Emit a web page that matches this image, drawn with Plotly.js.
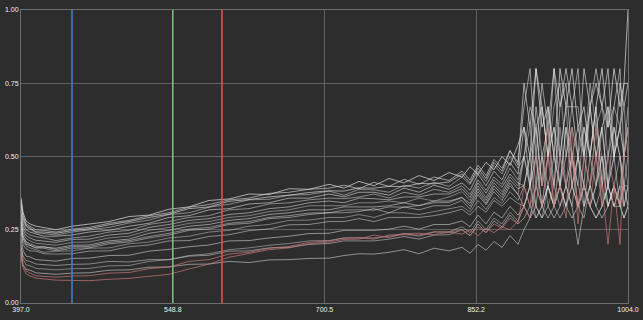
<!DOCTYPE html>
<html>
<head>
<meta charset="utf-8">
<script src="https://cdn.plot.ly/plotly-3.0.1.min.js"></script>
<style>html,body{margin:0;padding:0;background:#2d2d2d;}#chart{width:643px;height:320px;}</style>
</head>
<body>
<div id="chart"></div>
<script>
// wavelength samples (shared by all spectra)
const wavelengths = [397,399,402,406,412,420,432,448, 465,485,505,525,545,565,585,605,625,645,665,685, 705,720,735,750,765,780,795,810,825, 838,846,854,862,870,878,886,894, 900,906,912,918,924,930,936,942,948,954,960,966,972,978,984,990,996,1000,1004];

// spectra (white)
const s1  = [0.36,0.31,0.28,0.27,0.262,0.258,0.25,0.262, 0.27,0.278,0.295,0.30,0.32,0.328,0.35,0.355,0.372,0.37,0.39,0.388, 0.405,0.392,0.415,0.40,0.425,0.41,0.435,0.418,0.445, 0.43,0.465,0.44,0.48,0.455,0.50,0.47,0.54, 0.60,0.50,0.80,0.60,0.67,0.50,0.80,0.67,0.80,0.60,0.67,0.50,0.67,0.80,0.60,0.80,0.67,0.75,1.00];
const s2  = [0.34,0.30,0.27,0.262,0.25,0.248,0.242,0.252, 0.258,0.272,0.282,0.298,0.308,0.327,0.336,0.352,0.358,0.374,0.378,0.388, 0.392,0.402,0.39,0.412,0.398,0.422,0.405,0.43,0.418, 0.45,0.42,0.47,0.435,0.49,0.46,0.52,0.48, 0.67,0.80,0.50,0.75,0.60,0.80,0.50,0.67,0.67,0.80,0.50,0.67,0.80,0.67,0.60,0.67,0.80,0.50,0.67];
const s3  = [0.33,0.28,0.26,0.252,0.24,0.237,0.232,0.242, 0.25,0.258,0.273,0.283,0.302,0.308,0.327,0.337,0.352,0.354,0.368,0.37, 0.382,0.368,0.388,0.386,0.378,0.402,0.392,0.412,0.398, 0.43,0.405,0.45,0.415,0.47,0.44,0.50,0.46, 0.50,0.67,0.60,0.67,0.50,0.67,0.75,0.50,0.67,0.67,0.50,0.75,0.60,0.67,0.50,0.67,0.60,0.50,0.60];
const s4  = [0.31,0.27,0.25,0.242,0.236,0.228,0.228,0.232, 0.242,0.248,0.262,0.272,0.292,0.298,0.318,0.322,0.338,0.342,0.358,0.358, 0.372,0.362,0.378,0.378,0.368,0.392,0.378,0.402,0.388, 0.41,0.385,0.44,0.40,0.45,0.42,0.48,0.44, 0.60,0.40,0.67,0.50,0.60,0.40,0.67,0.75,0.50,0.60,0.50,0.67,0.50,0.60,0.67,0.50,0.60,0.75,0.75];
const s5  = [0.30,0.26,0.24,0.232,0.226,0.222,0.213,0.222, 0.228,0.242,0.248,0.268,0.278,0.292,0.298,0.318,0.322,0.338,0.342,0.352, 0.358,0.356,0.362,0.372,0.358,0.378,0.368,0.388,0.378, 0.40,0.37,0.42,0.385,0.43,0.405,0.46,0.42, 0.50,0.60,0.40,0.67,0.50,0.60,0.50,0.67,0.40,0.50,0.60,0.50,0.67,0.40,0.67,0.50,0.60,0.67,0.50];
const s6  = [0.29,0.25,0.23,0.222,0.214,0.212,0.207,0.217, 0.218,0.232,0.238,0.258,0.268,0.282,0.288,0.302,0.308,0.322,0.328,0.342, 0.348,0.342,0.358,0.356,0.352,0.362,0.362,0.372,0.372, 0.39,0.36,0.41,0.375,0.42,0.395,0.44,0.41, 0.40,0.50,0.60,0.40,0.50,0.60,0.40,0.50,0.60,0.50,0.40,0.67,0.50,0.60,0.40,0.60,0.50,0.40,0.50];
const s7  = [0.28,0.24,0.22,0.212,0.204,0.202,0.197,0.207, 0.208,0.222,0.228,0.248,0.258,0.272,0.278,0.292,0.298,0.312,0.318,0.332, 0.332,0.332,0.342,0.342,0.348,0.342,0.358,0.348,0.362, 0.38,0.35,0.40,0.36,0.41,0.38,0.43,0.40, 0.50,0.40,0.50,0.33,0.50,0.40,0.60,0.40,0.50,0.33,0.50,0.40,0.60,0.50,0.40,0.50,0.60,0.50,0.50];
const s8  = [0.27,0.23,0.21,0.202,0.194,0.192,0.187,0.197, 0.198,0.212,0.218,0.238,0.248,0.262,0.268,0.282,0.288,0.302,0.308,0.318, 0.318,0.328,0.328,0.328,0.332,0.342,0.332,0.348,0.348, 0.36,0.34,0.39,0.35,0.40,0.37,0.42,0.39, 0.40,0.50,0.33,0.50,0.40,0.50,0.40,0.60,0.40,0.50,0.33,0.50,0.40,0.60,0.40,0.50,0.33,0.50,0.60];
const s9  = [0.26,0.22,0.20,0.197,0.188,0.187,0.178,0.187, 0.188,0.202,0.208,0.222,0.232,0.248,0.252,0.268,0.272,0.288,0.292,0.302, 0.308,0.308,0.312,0.322,0.308,0.328,0.318,0.332,0.332, 0.35,0.32,0.37,0.335,0.38,0.35,0.40,0.37, 0.33,0.40,0.50,0.33,0.40,0.33,0.50,0.40,0.33,0.50,0.40,0.33,0.40,0.50,0.33,0.40,0.50,0.33,0.40];
const s10 = [0.25,0.21,0.195,0.188,0.182,0.173,0.177,0.178, 0.187,0.188,0.202,0.208,0.222,0.228,0.242,0.248,0.262,0.268,0.282,0.283, 0.292,0.292,0.302,0.292,0.308,0.308,0.302,0.312,0.322, 0.33,0.31,0.35,0.32,0.36,0.34,0.38,0.35, 0.40,0.33,0.40,0.50,0.33,0.40,0.33,0.40,0.50,0.40,0.33,0.40,0.50,0.33,0.40,0.33,0.40,0.50,0.40];
const s11 = [0.24,0.20,0.185,0.178,0.177,0.168,0.167,0.168, 0.177,0.178,0.192,0.198,0.212,0.213,0.227,0.233,0.247,0.253,0.267,0.268, 0.278,0.278,0.288,0.278,0.292,0.292,0.292,0.298,0.308, 0.32,0.30,0.33,0.31,0.35,0.33,0.36,0.34, 0.33,0.40,0.33,0.29,0.40,0.33,0.40,0.33,0.40,0.33,0.29,0.40,0.33,0.40,0.33,0.40,0.33,0.40,0.33];
const s12 = [0.22,0.18,0.16,0.157,0.148,0.147,0.143,0.152, 0.153,0.162,0.163,0.177,0.183,0.192,0.198,0.212,0.213,0.222,0.228,0.237, 0.238,0.248,0.248,0.248,0.252,0.262,0.252,0.268,0.268, 0.28,0.26,0.30,0.27,0.31,0.29,0.33,0.30, 0.33,0.29,0.40,0.33,0.29,0.33,0.40,0.33,0.29,0.33,0.40,0.33,0.29,0.33,0.40,0.33,0.33,0.29,0.33];
const s13 = [0.20,0.16,0.145,0.142,0.133,0.132,0.128,0.132, 0.133,0.142,0.14,0.148,0.148,0.16,0.163,0.177,0.178,0.188,0.19,0.20, 0.203,0.212,0.213,0.212,0.218,0.227,0.218,0.232,0.233, 0.25,0.23,0.27,0.24,0.28,0.26,0.30,0.27, 0.29,0.33,0.29,0.33,0.40,0.33,0.29,0.33,0.40,0.33,0.40,0.33,0.29,0.33,0.40,0.33,0.40,0.33,0.40];
const s14 = [0.17,0.13,0.115,0.112,0.103,0.102,0.098,0.102, 0.103,0.112,0.113,0.122,0.123,0.132,0.133,0.142,0.138,0.147,0.148,0.152, 0.153,0.162,0.168,0.167,0.173,0.182,0.168,0.187,0.178, 0.19,0.17,0.20,0.18,0.21,0.19,0.23,0.20, 0.25,0.29,0.33,0.29,0.33,0.29,0.33,0.40,0.33,0.20,0.33,0.40,0.33,0.29,0.33,0.40,0.33,0.29,0.33];
const s15 = [0.19,0.15,0.13,0.127,0.118,0.117,0.113,0.117, 0.118,0.127,0.128,0.142,0.148,0.162,0.168,0.182,0.188,0.197,0.203,0.212, 0.213,0.222,0.223,0.222,0.228,0.237,0.228,0.242,0.243, 0.26,0.24,0.28,0.25,0.29,0.27,0.31,0.28, 0.33,0.40,0.29,0.33,0.40,0.33,0.40,0.33,0.50,0.33,0.40,0.33,0.40,0.50,0.33,0.40,0.33,0.40,0.33];
const s16 = [0.35,0.29,0.265,0.257,0.243,0.242,0.238,0.247, 0.253,0.267,0.278,0.292,0.303,0.322,0.328,0.347,0.353,0.362,0.368,0.377, 0.383,0.382,0.393,0.392,0.398,0.397,0.408,0.407,0.413, 0.44,0.41,0.46,0.425,0.48,0.45,0.52,0.47, 0.75,0.60,0.80,0.67,0.50,0.80,0.67,0.80,0.67,0.50,0.80,0.67,0.75,0.67,0.80,0.50,0.75,0.67,0.75];
const s17 = [0.28,0.225,0.205,0.197,0.188,0.192,0.183,0.192, 0.193,0.207,0.213,0.227,0.238,0.252,0.258,0.272,0.278,0.292,0.298,0.307, 0.308,0.317,0.318,0.317,0.328,0.327,0.333,0.342,0.343, 0.36,0.33,0.38,0.34,0.39,0.36,0.41,0.37, 0.50,0.40,0.60,0.40,0.67,0.50,0.40,0.60,0.50,0.40,0.60,0.50,0.67,0.40,0.50,0.60,0.50,0.40,0.40];

// spectra (red)
const red1 = [0.16,0.12,0.10,0.092,0.085,0.082,0.078,0.077, 0.076,0.081,0.084,0.091,0.098,0.116,0.133,0.156,0.168,0.182,0.188,0.202, 0.208,0.217,0.218,0.232,0.223,0.237,0.238,0.233,0.242, 0.235,0.25,0.23,0.255,0.24,0.26,0.25,0.28, 0.33,0.29,0.40,0.33,0.50,0.33,0.40,0.29,0.50,0.33,0.40,0.33,0.50,0.40,0.20,0.40,0.33,0.50,0.50];
const red2 = [0.18,0.13,0.11,0.102,0.093,0.092,0.088,0.092, 0.093,0.102,0.104,0.117,0.123,0.142,0.148,0.167,0.173,0.187,0.193,0.207, 0.212,0.222,0.223,0.218,0.232,0.233,0.232,0.243,0.242, 0.25,0.23,0.26,0.24,0.27,0.255,0.29,0.27, 0.40,0.33,0.50,0.40,0.60,0.33,0.50,0.40,0.60,0.27,0.50,0.40,0.60,0.33,0.50,0.40,0.20,0.50,0.60];

const whiteSeries = [s1,s2,s3,s4,s5,s6,s7,s8,s9,s10,s11,s12,s13,s14,s15,s16,s17];
const whiteOpacity = [0.7,0.6,0.5,0.6,0.5,0.55,0.45,0.55,0.5,0.45,0.5,0.55,0.5,0.55,0.45,0.65,0.5];
const redSeries = [red1, red2];

// band markers
const markerX = [448, 548.8, 598];
const markerColors = ['#3d7fc4', '#7dbb7d', '#d9534f'];

// ticks
const xTickVals = [397.0, 548.8, 700.5, 852.2, 1004.0];
const xTickText = ['397.0', '548.8', '700.5', '852.2', '1004.0'];
const yTickVals = [0, 0.25, 0.5, 0.75, 1.0];
const yTickText = ['0.00', '0.25', '0.50', '0.75', '1.00'];

const traces = [];
whiteSeries.forEach((ys, i) => {
  traces.push({x: wavelengths, y: ys, type: 'scatter', mode: 'lines',
    line: {color: 'rgba(225,225,225,' + whiteOpacity[i] + ')', width: 1}, hoverinfo: 'skip'});
});
redSeries.forEach((ys) => {
  traces.push({x: wavelengths, y: ys, type: 'scatter', mode: 'lines',
    line: {color: 'rgba(200,120,120,0.7)', width: 1}, hoverinfo: 'skip'});
});
markerX.forEach((xv, i) => {
  traces.push({x: [xv, xv], y: [0, 1], type: 'scatter', mode: 'lines',
    line: {color: markerColors[i], width: 1.6}, hoverinfo: 'skip'});
});

const layout = {
  width: 643, height: 320,
  margin: {l: 21, r: 15, t: 10, b: 17},
  paper_bgcolor: '#2d2d2d', plot_bgcolor: '#2d2d2d',
  showlegend: false,
  font: {family: 'Liberation Sans, Arial, sans-serif', size: 7, color: '#f0f0f0'},
  xaxis: {range: [397, 1004], tickvals: xTickVals, ticktext: xTickText,
    showgrid: true, gridcolor: '#626262', gridwidth: 1, zeroline: false,
    showline: true, linecolor: '#6e6e6e', mirror: true, ticks: '', ticklen: 0},
  yaxis: {range: [0, 1], tickvals: yTickVals, ticktext: yTickText,
    showgrid: true, gridcolor: '#626262', gridwidth: 1, zeroline: false,
    showline: true, linecolor: '#6e6e6e', mirror: true, ticks: '', ticklen: 0}
};

Plotly.newPlot('chart', traces, layout, {displayModeBar: false, staticPlot: true});
</script>
</body>
</html>
